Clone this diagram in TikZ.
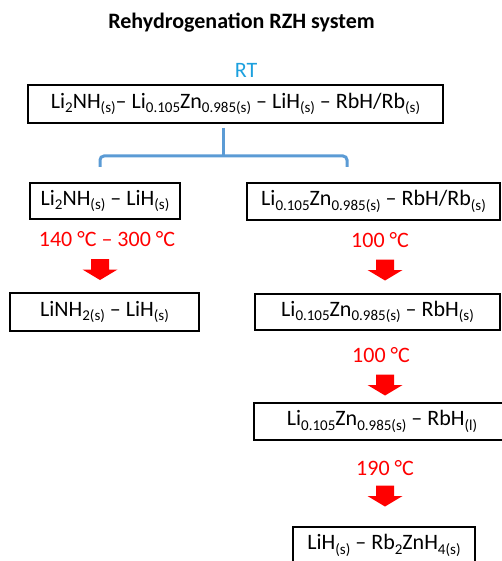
\documentclass[tikz,border=0pt]{standalone}
\usepackage{fontspec}
\setmainfont{Carlito}
\newcommand\sbs[1]{\raisebox{-0.45ex}{\fontsize{15}{15}\selectfont #1}}
\definecolor{rtblue}{RGB}{28,160,222}
\definecolor{brblue}{RGB}{91,155,213}
\definecolor{tred}{RGB}{255,0,0}
\begin{document}
\begin{tikzpicture}[x=1pt,y=-1pt,
  box/.style={draw=black, line width=2pt, inner sep=0pt, font=\fontsize{22}{26}\selectfont},
  temp/.style={text=tred, inner sep=0pt, font=\fontsize{22}{26}\selectfont},
  bracket/.style={draw=brblue, line width=3pt, rounded corners=4pt},
  dnarrow/.pic={\fill[tred] (-9,-10.5) -- (9,-10.5) -- (9,0) -- (17.5,0) -- (0,10.5) -- (-17.5,0) -- (-9,0) -- cycle;}
]
\useasboundingbox (0,0) rectangle (501,561);

\node[font=\bfseries\fontsize{22}{26}\selectfont, inner sep=0pt] (title) at (241.5,23) {Rehydrogenation RZH system};
\node[text=rtblue, inner sep=0pt, font=\fontsize{22}{26}\selectfont] (rt) at (246,70) {RT};

\node[box, minimum width=415pt, minimum height=38pt] (top) at (235.5,104)
  {Li\sbs{2}NH\sbs{(s)}– Li\sbs{0.105}Zn\sbs{0.985(s)} – LiH\sbs{(s)} – RbH/Rb\sbs{(s)}};

% bracket
\coordinate (bs) at (223,128);
\coordinate (bj) at (223,156);
\coordinate (bl) at (100,167);
\coordinate (br) at (347,167);
\draw[bracket] (bl) -- (100,156) -- (347,156) -- (br);
\draw[draw=brblue, line width=3pt] (bs) -- (bj);

% left column
\node[box, minimum width=150pt, minimum height=36pt] (l1) at (105,201)
  {Li\sbs{2}NH\sbs{(s)} – LiH\sbs{(s)}};
\node[temp] (t1) at (107,239) {140 °C – 300 °C};
\pic at (100,269.5) {dnarrow};
\node[box, minimum width=189pt, minimum height=38pt] (l2) at (104.5,312)
  {LiNH\sbs{2(s)} – LiH\sbs{(s)}};

% right column
\node[box, minimum width=253pt, minimum height=37pt] (r1) at (373.5,201.5)
  {Li\sbs{0.105}Zn\sbs{0.985(s)} – RbH/Rb\sbs{(s)}};
\node[temp] (t2) at (380,240) {100 °C};
\pic at (385,270) {dnarrow};
\node[box, minimum width=245pt, minimum height=36pt] (r2) at (377.5,312)
  {Li\sbs{0.105}Zn\sbs{0.985(s)} – RbH\sbs{(s)}};
\node[temp] (t3) at (381,355) {100 °C};
\pic at (385,385) {dnarrow};
\node[box, minimum width=256pt, minimum height=37pt] (r3) at (382,421.5)
  {Li\sbs{0.105}Zn\sbs{0.985(s)} – RbH\sbs{(l)}};
\node[temp] (t4) at (385,468) {190 °C};
\pic at (385,496) {dnarrow};
\node[box, minimum width=182pt, minimum height=37pt] (r4) at (384,545.5)
  {LiH\sbs{(s)} – Rb\sbs{2}ZnH\sbs{4(s)}};
\end{tikzpicture}
\end{document}
